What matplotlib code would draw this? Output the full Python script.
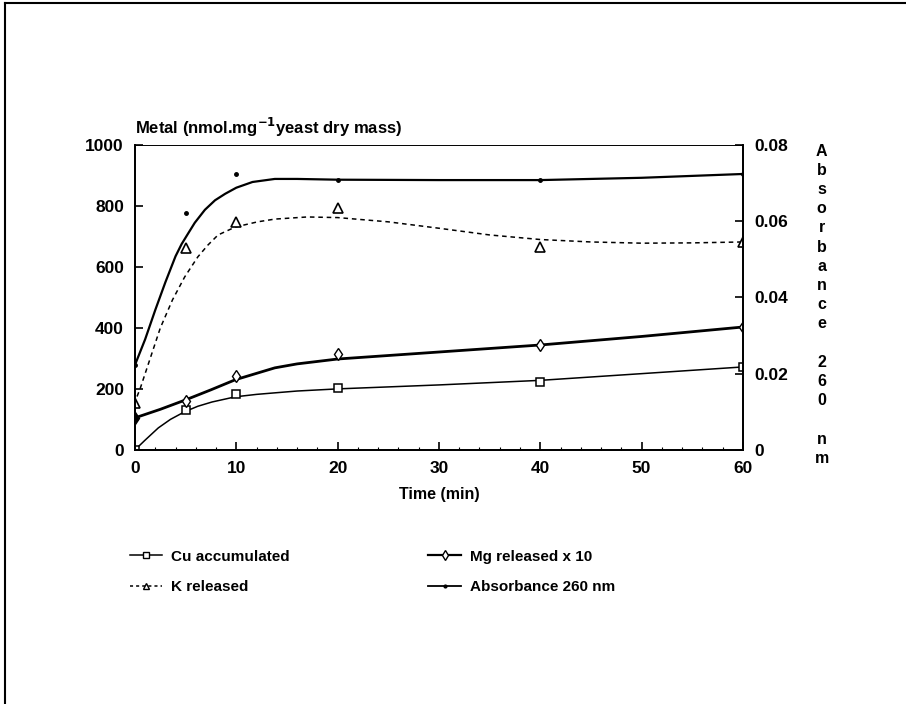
import numpy as np
import matplotlib
matplotlib.use("Agg")
import matplotlib.pyplot as plt
from matplotlib.lines import Line2D

plt.rcParams['font.family'] = ['Liberation Sans', 'DejaVu Sans']
plt.rcParams['font.weight'] = 'bold'
plt.rcParams['axes.labelweight'] = 'bold'

# measured points (left axis units; absorbance in right axis units)
t = [0, 5, 10, 20, 40, 60]
cu_pts = [0, 131, 184, 203, 223, 272]
k_pts = [154, 662, 748, 793, 666, 682]
mg_pts = [105, 160, 243, 315, 344, 403]
abs_pts = [0.0224, 0.0622, 0.0724, 0.0708, 0.0708, 0.0724]

# fitted curves
cu_t = [0, 1, 2.3, 3.5, 4.9, 6.2, 7.6, 9.9, 12, 13.8, 16, 20, 30, 40, 50, 60]
cu_fit = [0, 32, 72, 100, 125, 143, 157, 174, 182, 187, 193, 200, 213, 228, 250, 272]
k_t = [0.2, 0.5, 1.5, 2.5, 3.7, 4.9, 6.2, 7.2, 8.2, 9.9, 12.1, 13.8, 17, 20, 25, 30, 35, 40, 45, 50, 55, 60]
k_fit = [175, 200, 300, 400, 492, 567, 633, 672, 705, 731, 748, 757, 764, 762, 748, 727, 705, 690, 682, 678, 679, 682]
mg_t = [0, 2.5, 5, 7.5, 9.9, 13.8, 16, 20, 30, 40, 50, 60]
mg_fit = [105, 133, 164, 197, 230, 269, 282, 298, 321, 344, 372, 403]
abs_t = [0, 1, 2.0, 3.0, 4.0, 4.6, 5.2, 5.9, 6.9, 7.9, 8.9, 10, 11.6, 13.8, 16, 20, 30, 40, 50, 60]
abs_fit = [0.0223, 0.0290, 0.0367, 0.0440, 0.0508, 0.0540, 0.0566, 0.0596, 0.0630, 0.0655, 0.0672, 0.0688, 0.0703, 0.0711, 0.0711, 0.0709, 0.0708, 0.0708, 0.0714, 0.0724]

xticks = [0, 10, 20, 30, 40, 50, 60]
yticks = [0, 200, 400, 600, 800, 1000]
rticks = [0, 0.02, 0.04, 0.06, 0.08]
rticklabels = ['0', '0.02', '0.04', '0.06', '0.08']

fig = plt.figure(figsize=(9.06, 7.04), dpi=100)
ax = fig.add_axes([0.149, 0.361, 0.671, 0.433])
ax2 = ax.twinx()

ax.plot(cu_t, cu_fit, color='black', lw=1.1)
ax.plot(k_t, k_fit, color='black', lw=1.1, ls=(0, (3, 2.5)))
ax.plot(mg_t, mg_fit, color='black', lw=2.0)
ax2.plot(abs_t, abs_fit, color='black', lw=1.6)

ax.plot(t, cu_pts, ls='none', marker='s', mfc='white', mec='black', ms=6, mew=1.1)
ax.plot(t, k_pts, ls='none', marker='^', mfc='white', mec='black', ms=7, mew=1.2)
ax.plot(t[1:], mg_pts[1:], ls='none', marker='d', mfc='white', mec='black', ms=6, mew=1.0)
ax.plot(t[:1], mg_pts[:1], ls='none', marker='d', color='black', ms=6)
ax2.plot(t, abs_pts, ls='none', marker='o', color='black', ms=2.5)

ax.set_xlim(0, 60)
ax.set_ylim(0, 1000)
ax2.set_ylim(0, 0.08)
ax.set_xticks(xticks)
ax.set_xticks(np.arange(0, 61, 2), minor=True)
ax.set_yticks(yticks)
ax2.set_yticks(rticks)
ax2.set_yticklabels(rticklabels)

for a in (ax, ax2):
    for s in a.spines.values():
        s.set_linewidth(1.3)
ax.spines['top'].set_linewidth(0.6)
ax2.spines['top'].set_linewidth(0.6)

ax.tick_params(axis='both', which='major', direction='in', length=6, width=1.2,
               labelsize=12.5, pad=8)
ax.tick_params(axis='x', which='minor', direction='in', length=2.5, width=0.8)
ax2.tick_params(axis='y', direction='in', length=6, width=1.2, labelsize=12.5, pad=8)

ax.set_xlabel('Time (min)', fontsize=11.5, labelpad=8)
fig.text(0.149, 0.803, 'Metal (nmol.mg$^{\\mathbf{-1}}$yeast dry mass)', fontsize=12,
         ha='left', va='bottom')

label = 'Absorbance 260 nm'
fig.text(0.907, 0.796, '\n'.join(label), fontsize=11.5, ha='center', va='top',
         linespacing=1.35)

handles = [
    Line2D([], [], color='black', lw=1.1, marker='s', mfc='white', mec='black', ms=5),
    Line2D([], [], color='black', lw=1.1, ls=(0, (2, 2)), marker='^', mfc='white', mec='black', ms=5),
    Line2D([], [], color='black', lw=1.6, marker='d', mfc='white', mec='black', ms=5),
    Line2D([], [], color='black', lw=1.3, marker='o', ms=2),
]
labels = ['Cu accumulated', 'K released', 'Mg released x 10', 'Absorbance 260 nm']
fig.legend(handles, labels, ncol=2, loc='upper left', bbox_to_anchor=(0.143, 0.219),
           frameon=False, fontsize=11, handlelength=2.1, handletextpad=0.6,
           columnspacing=9.1, labelspacing=1.05, borderpad=0, borderaxespad=0)

# outer frame of the scanned page
fig.add_artist(Line2D([0.006, 1.0], [0.996, 0.996], color='black', lw=1.5))
fig.add_artist(Line2D([0.006, 0.006], [0.0, 0.996], color='black', lw=1.5))

fig.savefig('out.png', dpi=100)
